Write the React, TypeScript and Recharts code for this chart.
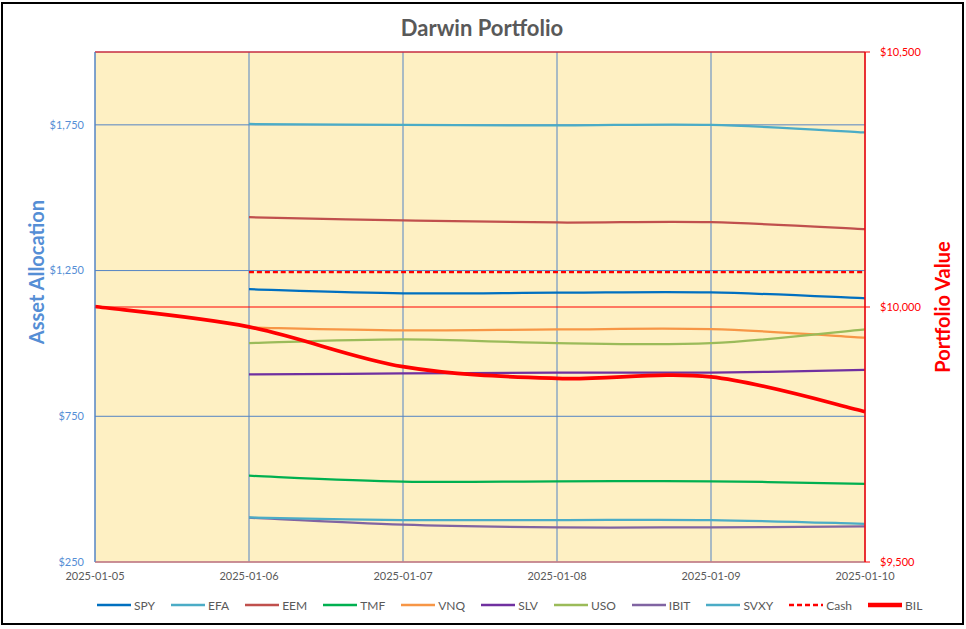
import React from 'react';
import { LineChart, Line, XAxis, YAxis, CartesianGrid } from 'recharts';

const dates = ['2025-01-05', '2025-01-06', '2025-01-07', '2025-01-08', '2025-01-09', '2025-01-10'];
const spy = [null, 1186, 1172, 1174, 1175, 1155];
const efa = [null, 1753, 1750, 1748, 1750, 1724];
const eem = [null, 1433, 1422, 1415, 1416, 1392];
const tmf = [null, 546, 526, 527, 527, 518];
const vnq = [null, 1055, 1045, 1048, 1049, 1020];
const slv = [null, 894, 897, 900, 900, 909];
const uso = [null, 1001, 1014, 1001, 1001, 1048];
const ibit = [null, 402, 378, 369, 369, 372];
const svxy = [null, 403, 394, 394, 394, 381];
const cash = [null, 1245, 1245, 1245, 1245, 1245];
const bil = [10001, 9961, 9883, 9860, 9863, 9795];

const leftTicks = [250, 750, 1250, 1750];
const rightTicks = [9500, 10000, 10500];

const seriesDefs = [
  { key: 'SPY', values: spy, color: '#0070C0', width: 2.25, dash: undefined as string | undefined, axis: 'left' },
  { key: 'EFA', values: efa, color: '#4BACC6', width: 2.25, dash: undefined, axis: 'left' },
  { key: 'EEM', values: eem, color: '#C0504D', width: 2.25, dash: undefined, axis: 'left' },
  { key: 'TMF', values: tmf, color: '#00B050', width: 2.25, dash: undefined, axis: 'left' },
  { key: 'VNQ', values: vnq, color: '#F79646', width: 2.25, dash: undefined, axis: 'left' },
  { key: 'SLV', values: slv, color: '#7030A0', width: 2.25, dash: undefined, axis: 'left' },
  { key: 'USO', values: uso, color: '#9BBB59', width: 2.25, dash: undefined, axis: 'left' },
  { key: 'IBIT', values: ibit, color: '#8064A2', width: 2.25, dash: undefined, axis: 'left' },
  { key: 'SVXY', values: svxy, color: '#4BACC6', width: 2.25, dash: undefined, axis: 'left' },
  { key: 'Cash', values: cash, color: '#FF0000', width: 2.25, dash: '5 3', axis: 'left' },
  { key: 'BIL', values: bil, color: '#FF0000', width: 3.75, dash: undefined, axis: 'right' },
];

const data = dates.map((d, i) => {
  const row: Record<string, any> = { date: d };
  seriesDefs.forEach((s) => {
    row[s.key] = s.values[i];
  });
  return row;
});

// Excel-like smoothed line (Catmull-Rom style bezier)
const excelCurve = (context: any) => {
  let pts: number[][] = [];
  return {
    areaStart() {},
    areaEnd() {},
    lineStart() {
      pts = [];
    },
    lineEnd() {
      const n = pts.length;
      if (!n) return;
      context.moveTo(pts[0][0], pts[0][1]);
      if (n === 1) {
        context.lineTo(pts[0][0], pts[0][1]);
        return;
      }
      for (let i = 0; i < n - 1; i++) {
        const p0 = pts[i - 1] || pts[i];
        const p1 = pts[i];
        const p2 = pts[i + 1];
        const p3 = pts[i + 2] || p2;
        context.bezierCurveTo(
          p1[0] + (p2[0] - p0[0]) / 6,
          p1[1] + (p2[1] - p0[1]) / 6,
          p2[0] - (p3[0] - p1[0]) / 6,
          p2[1] - (p3[1] - p1[1]) / 6,
          p2[0],
          p2[1]
        );
      }
    },
    point(x: number, y: number) {
      pts.push([+x, +y]);
    },
  };
};

const FONT = "Lato, 'Open Sans', sans-serif";
const GRID_BLUE = '#5484C4';
const fmt = (v: number) => '$' + v.toLocaleString('en-US');

export default function App() {
  return (
    <div style={{ position: 'absolute', left: 0, top: 0, width: 966, height: 629, background: '#fff', fontFamily: FONT }}>
      <LineChart width={966} height={629} data={data} margin={{ top: 52, right: 0, bottom: 42, left: 0 }}>
        <CartesianGrid yAxisId="left" stroke={GRID_BLUE} strokeWidth={1} fill="#FEF0C3" fillOpacity={1} />
        <CartesianGrid yAxisId="right" stroke="#FF0000" strokeWidth={1} vertical={false} />
        <XAxis
          dataKey="date"
          scale="point"
          padding={{ left: 0, right: 0 }}
          interval={0}
          height={25}
          tickLine={false}
          tickMargin={4}
          axisLine={{ stroke: '#BFBFBF', strokeWidth: 1 }}
          tick={{ fill: '#595959', fontSize: 11, fontFamily: FONT }}
        />
        <YAxis
          yAxisId="left"
          orientation="left"
          width={95}
          domain={[250, 2000]}
          ticks={leftTicks}
          allowDataOverflow
          tickFormatter={fmt}
          tickLine={false}
          tickMargin={5}
          axisLine={{ stroke: GRID_BLUE, strokeWidth: 1 }}
          tick={{ fill: '#558ED5', fontSize: 11, fontFamily: FONT }}
        />
        <YAxis
          yAxisId="right"
          orientation="right"
          width={101}
          domain={[9500, 10500]}
          ticks={rightTicks}
          allowDataOverflow
          tickFormatter={fmt}
          tickSize={5}
          tickMargin={10}
          tickLine={{ stroke: '#FF0000', strokeWidth: 1 }}
          axisLine={{ stroke: '#FF0000', strokeWidth: 1.5 }}
          tick={{ fill: '#FF0000', fontSize: 11, fontFamily: FONT }}
        />
        {seriesDefs.map((s) => (
          <Line
            key={s.key}
            yAxisId={s.axis}
            dataKey={s.key}
            name={s.key}
            type={excelCurve as any}
            stroke={s.color}
            strokeWidth={s.width}
            strokeDasharray={s.dash}
            dot={false}
            activeDot={false}
            isAnimationActive={false}
          />
        ))}
      </LineChart>
      <svg width={966} height={629} style={{ position: 'absolute', left: 0, top: 0, pointerEvents: 'none' }}>
        <text x={482} y={36} textAnchor="middle" fontFamily={FONT} fontWeight="bold" fontSize={22} fill="#595959">
          Darwin Portfolio
        </text>
        <text
          x={0}
          y={0}
          transform="translate(44,272) rotate(-90)"
          textAnchor="middle"
          fontFamily={FONT}
          fontWeight="bold"
          fontSize={20}
          fill="#558ED5"
        >
          Asset Allocation
        </text>
        <text
          x={0}
          y={0}
          transform="translate(950,307) rotate(-90)"
          textAnchor="middle"
          fontFamily={FONT}
          fontWeight="bold"
          fontSize={20}
          fill="#FF0000"
        >
          Portfolio Value
        </text>
      </svg>
      <div
        style={{
          position: 'absolute',
          left: 97,
          top: 597,
          height: 16,
          display: 'flex',
          alignItems: 'center',
          fontSize: 12,
          color: '#595959',
          fontFamily: FONT,
          whiteSpace: 'nowrap',
        }}
      >
        {seriesDefs.map((s) => (
          <div key={s.key} style={{ display: 'flex', alignItems: 'center', marginRight: 16 }}>
            <svg width={34} height={8} style={{ marginRight: 3 }}>
              <line
                x1={0}
                x2={34}
                y1={4}
                y2={4}
                stroke={s.color}
                strokeWidth={s.key === 'BIL' ? 4.5 : 2.5}
                strokeDasharray={s.dash}
              />
            </svg>
            <span>{s.key}</span>
          </div>
        ))}
      </div>
      <div
        style={{
          position: 'absolute',
          left: 1,
          top: 2,
          width: 963,
          height: 623,
          boxSizing: 'border-box',
          border: '2px solid #000',
          pointerEvents: 'none',
        }}
      />
    </div>
  );
}
